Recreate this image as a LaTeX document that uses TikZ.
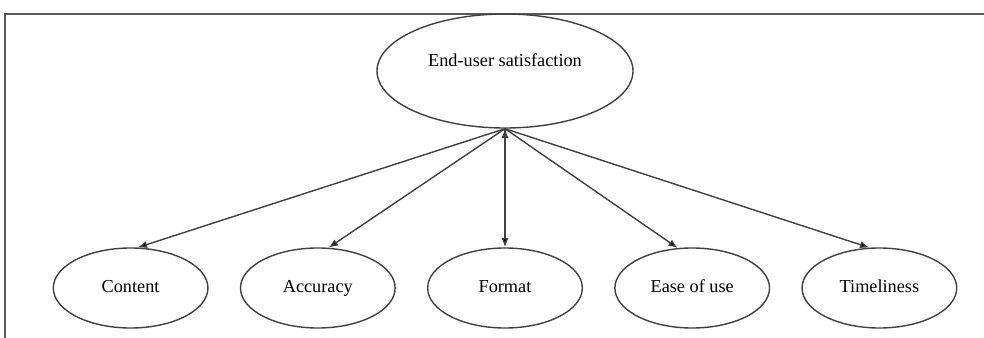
\documentclass[tikz,border=0pt]{standalone}
\usepackage{fontspec}
\setmainfont{Liberation Serif}
\usetikzlibrary{shapes.geometric, positioning, arrows.meta}

\tikzset{
    oval/.style={draw=black!75, line width=1.05pt, ellipse, inner sep=0pt,
        font=\fontsize{13.7}{16}\selectfont},
    topoval/.style={oval, minimum width=192pt, minimum height=85.5pt, text depth=17pt},
    leafoval/.style={oval, minimum width=116pt, minimum height=60pt,
        text height=9.5pt, text depth=3pt},
    frameline/.style={draw=black!65, line width=1.8pt}
}

\begin{document}
\begin{tikzpicture}[x=0.75pt, y=-0.75pt, node distance=140.4pt, on grid,
    >={Latex[length=7pt, width=5.5pt]}]
    \useasboundingbox (0,0) rectangle (984,338);
    \draw[frameline] (5,338) -- (5,14) -- (984,14);

    \node[topoval] (eus) at (505,71) {End-user satisfaction};
    \node[leafoval] (format) [below=162.75pt of eus] {Format};
    \node[leafoval] (accuracy) [left=of format] {Accuracy};
    \node[leafoval] (content) [left=of accuracy] {Content};
    \node[leafoval] (ease) [right=of format] {Ease of use};
    \node[leafoval] (timeliness) [right=of ease] {Timeliness};

    \path[->, draw=black!75, line width=1.05pt]
    (eus.south) edge (content.80)
    (eus.south) edge (accuracy.75)
    (eus.south) edge (format.north)
    (eus.south) edge (ease.110)
    (eus.south) edge (timeliness.104);
\end{tikzpicture}
\end{document}
